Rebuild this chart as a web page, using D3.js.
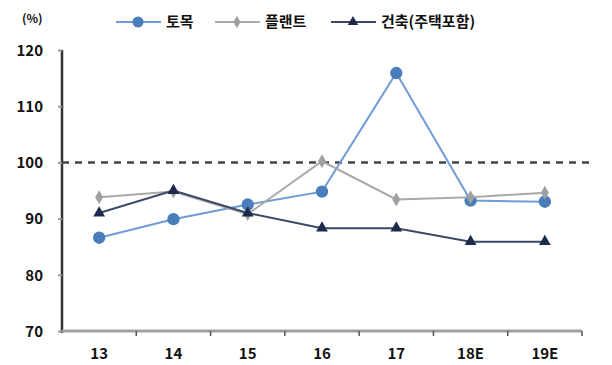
<!DOCTYPE html>
<html>
<head>
<meta charset="utf-8">
<script src="https://cdn.jsdelivr.net/npm/d3@7"></script>
<style>
  html, body { margin: 0; padding: 0; background: #fff; }
  text { font-family: "Noto Sans CJK KR", "Noto Sans", sans-serif; font-weight: bold; fill: #111; }
</style>
</head>
<body>
<svg id="chart" width="612" height="365"></svg>
<script>
const categories = ["13", "14", "15", "16", "17", "18E", "19E"];
const civil      = [86.6, 89.9, 92.5, 94.8, 115.9, 93.2, 93.0];   // 토목
const plant      = [93.8, 94.8, 90.8, 100.2, 93.4, 93.8, 94.6];   // 플랜트
const building   = [91.0, 95.0, 91.0, 88.3, 88.3, 85.9, 85.9];    // 건축(주택포함)
const seriesNames = ["토목", "플랜트", "건축(주택포함)"];
const yTicks = [70, 80, 90, 100, 110, 120];
const baseline = 100;

const svg = d3.select("#chart");
const plotLeft = 62, plotRight = 582, plotTop = 50, plotBottom = 331;

const x = d3.scaleBand().domain(categories).range([plotLeft, plotRight]).padding(0);
const y = d3.scaleLinear().domain([70, 120]).range([plotBottom, plotTop]);
const cx = c => x(c) + x.bandwidth() / 2;

// y axis
const yAxis = svg.append("g").attr("transform", `translate(${plotLeft},0)`)
  .call(d3.axisLeft(y).tickValues(yTicks).tickSize(4).tickPadding(15));
yAxis.select(".domain").attr("stroke", "#333").attr("stroke-width", 2.5)
  .attr("d", `M0,${plotTop}V${plotBottom + 2}`);
yAxis.selectAll(".tick line").attr("stroke", "#999").attr("stroke-width", 2);
yAxis.selectAll(".tick text").attr("font-size", 15).attr("dy", "0.35em").style("fill", "#111");

// x axis
const xAxis = svg.append("g").attr("transform", `translate(0,${plotBottom})`)
  .call(d3.axisBottom(x).tickSize(0).tickPadding(17));
xAxis.select(".domain").attr("stroke", "#a0a0a0").attr("stroke-width", 3)
  .attr("d", `M${plotLeft},0H${plotRight}`);
xAxis.selectAll(".tick text").attr("font-size", 15).style("fill", "#111");
// boundary tick marks between categories
svg.append("g").selectAll("line")
  .data(categories)
  .join("line")
  .attr("x1", d => x(d) + x.bandwidth())
  .attr("x2", d => x(d) + x.bandwidth())
  .attr("y1", plotBottom).attr("y2", plotBottom + 5)
  .attr("stroke", "#555").attr("stroke-width", 1.5);

// 100 reference line
svg.append("line")
  .attr("x1", plotLeft).attr("x2", 590)
  .attr("y1", y(baseline)).attr("y2", y(baseline))
  .attr("stroke", "#444").attr("stroke-width", 2.5)
  .attr("stroke-dasharray", "7,6");

const series = [
  { name: seriesNames[0], values: civil, line: "#6f9bd6", mark: "#4a7ebb", shape: d3.symbolCircle, size: 120 },
  { name: seriesNames[1], values: plant, line: "#a9a9a9", mark: "#a0a0a0", shape: d3.symbolDiamond, size: 55 },
  { name: seriesNames[2], values: building, line: "#3a4a66", mark: "#1c2b4a", shape: d3.symbolTriangle, size: 60 }
];

const line = d3.line().x((d, i) => cx(categories[i])).y(d => y(d));

series.forEach(s => {
  svg.append("path").datum(s.values)
    .attr("d", line).attr("fill", "none")
    .attr("stroke", s.line).attr("stroke-width", 2);
  svg.append("g").selectAll("path")
    .data(s.values).join("path")
    .attr("transform", (d, i) => `translate(${cx(categories[i])},${y(d)})`)
    .attr("d", d3.symbol().type(s.shape).size(s.size))
    .attr("fill", s.mark);
});

// unit label
svg.append("text").attr("x", 22).attr("y", 23).attr("font-size", 12).text("(%)");

// legend
const legendX = [116, 215, 331];
series.forEach((s, i) => {
  const g = svg.append("g").attr("transform", `translate(${legendX[i]},22)`);
  g.append("line").attr("x1", 0).attr("x2", 45).attr("y1", 0).attr("y2", 0)
    .attr("stroke", s.line).attr("stroke-width", 2.2);
  g.append("path").attr("transform", "translate(22,0)")
    .attr("d", d3.symbol().type(s.shape).size(s.size * 0.8)).attr("fill", s.mark);
  g.append("text").attr("x", 50).attr("y", 0).attr("dy", "0.35em")
    .attr("font-size", 15).text(s.name);
});
</script>
</body>
</html>
